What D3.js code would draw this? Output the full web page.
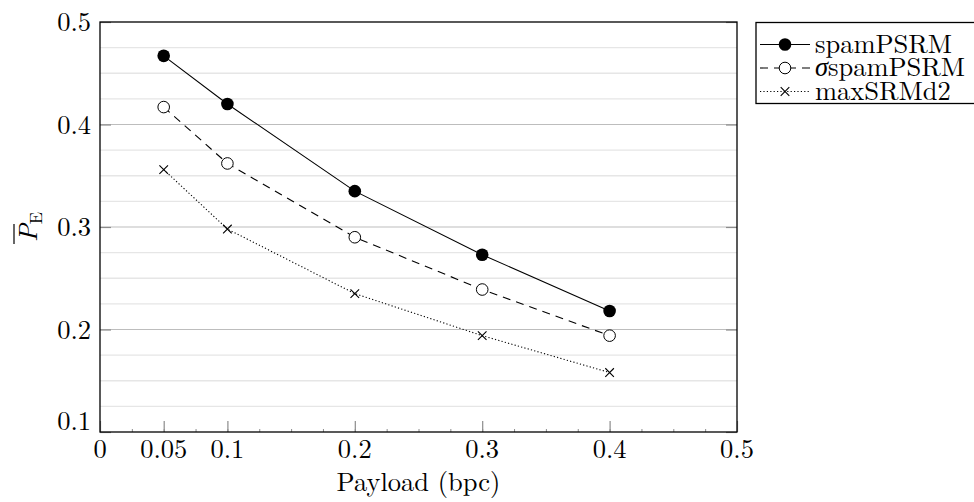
<!DOCTYPE html>
<html><head><meta charset="utf-8">
<script src="https://cdn.jsdelivr.net/npm/d3@7/dist/d3.min.js"></script>
<style>body{margin:0;background:#fff}svg{display:block}</style>
</head><body><svg id="c" width="974" height="502"></svg>
<script>
const payload = [0.05, 0.1, 0.2, 0.3, 0.4];
const spamPSRM = [0.467, 0.420, 0.335, 0.273, 0.218];
const sigmaSpamPSRM = [0.417, 0.362, 0.290, 0.239, 0.194];
const maxSRMd2 = [0.356, 0.298, 0.235, 0.194, 0.158];
const xTicks = [0, 0.05, 0.1, 0.2, 0.3, 0.4, 0.5];
const yTicks = [0.1, 0.2, 0.3, 0.4, 0.5];
const seriesNames = ["spamPSRM", "σspamPSRM", "maxSRMd2"];

const FONT = '"Latin Modern Roman","CMU Serif","Liberation Serif",serif';
const svg = d3.select("#c").attr("font-family", FONT);
const L = 100, R = 737, T = 22, B = 432;
const x = d3.scaleLinear().domain([0, 0.5]).range([L, R]);
const y = d3.scaleLinear().domain([0.1, 0.5]).range([B, T]);
const fs = 26.5;

// minor horizontal grid
const minorY = d3.range(0, 17).map(i => 0.1 + i * 0.025).filter(v => yTicks.every(t => Math.abs(t - v) > 1e-6));
svg.append("g").selectAll("line").data(minorY).join("line")
  .attr("x1", L).attr("x2", R).attr("y1", d => y(d)).attr("y2", d => y(d))
  .attr("stroke", "#e6e6e6").attr("stroke-width", 1.4);
// major horizontal grid
svg.append("g").selectAll("line").data(yTicks.slice(1, -1)).join("line")
  .attr("x1", L).attr("x2", R).attr("y1", d => y(d)).attr("y2", d => y(d))
  .attr("stroke", "#bdbdbd").attr("stroke-width", 1.2);

// y ticks left and right (inside)
const yAxL = d3.axisRight(y).tickValues(yTicks).tickSize(11).tickFormat("");
const yAxR = d3.axisLeft(y).tickValues(yTicks).tickSize(11).tickFormat("");
[[yAxL, L], [yAxR, R]].forEach(([ax, px]) => {
  const g = svg.append("g").attr("transform", `translate(${px},0)`).call(ax);
  g.select(".domain").remove();
  g.selectAll("line").attr("stroke", "#8c8c8c").attr("stroke-width", 1.2);
});
// x ticks bottom (inside)
const xMinor = d3.range(0, 21).map(i => i * 0.025);
const gxm = svg.append("g").attr("transform", `translate(0,${B})`)
  .call(d3.axisTop(x).tickValues(xMinor).tickSize(3).tickFormat(""));
gxm.select(".domain").remove();
gxm.selectAll("line").attr("stroke", "#8c8c8c").attr("stroke-width", 1);
const gx = svg.append("g").attr("transform", `translate(0,${B})`)
  .call(d3.axisTop(x).tickValues(xTicks).tickSize(11).tickFormat(""));
gx.select(".domain").remove();
gx.selectAll("line").attr("stroke", "#8c8c8c").attr("stroke-width", 1.2);

// frame
svg.append("rect").attr("x", L).attr("y", T).attr("width", R - L).attr("height", B - T)
  .attr("fill", "none").attr("stroke", "#000").attr("stroke-width", 1.3);

// tick labels
svg.append("g").selectAll("text").data(xTicks).join("text")
  .attr("font-family", FONT)
  .attr("x", d => x(d)).attr("y", 458).attr("text-anchor", "middle")
  .attr("font-size", fs).text(d => String(d));
svg.append("g").selectAll("text").data(yTicks).join("text")
  .attr("font-family", FONT)
  .attr("x", 91).attr("y", d => y(d) + 9 - (d === 0.1 ? 11 : 0)).attr("text-anchor", "end")
  .attr("font-size", fs).text(d => String(d));

// axis titles
svg.append("text").attr("font-family", FONT).attr("x", (L + R) / 2).attr("y", 491).attr("text-anchor", "middle")
  .attr("font-size", fs).text("Payload (bpc)");
const yl = svg.append("g").attr("transform", `translate(37,${(T + B) / 2}) rotate(-90)`);
const ylt = yl.append("text").attr("font-family", FONT).attr("text-anchor", "middle").attr("font-size", fs);
ylt.append("tspan").attr("font-style", "italic").text("P");
ylt.append("tspan").attr("font-size", 18).attr("dy", 5).text("E");
yl.append("line").attr("x1", -17).attr("x2", 3).attr("y1", -23).attr("y2", -23)
  .attr("stroke", "#000").attr("stroke-width", 1.2);

// series
const series = [
  {name: seriesNames[0], vals: spamPSRM, dash: null, marker: "filled"},
  {name: seriesNames[1], vals: sigmaSpamPSRM, dash: "8,6", marker: "open"},
  {name: seriesNames[2], vals: maxSRMd2, dash: "1.2,2.2", marker: "cross"}
];
const line = d3.line().x(d => x(d[0])).y(d => y(d[1]));
function drawMarker(g, kind, cx, cy) {
  if (kind === "filled") g.append("circle").attr("cx", cx).attr("cy", cy).attr("r", 6.3).attr("fill", "#000");
  else if (kind === "open") g.append("circle").attr("cx", cx).attr("cy", cy).attr("r", 5.8).attr("fill", "#fff").attr("stroke", "#000").attr("stroke-width", 1);
  else {
    const s = 4.3;
    g.append("path").attr("d", `M${cx - s},${cy - s}L${cx + s},${cy + s}M${cx - s},${cy + s}L${cx + s},${cy - s}`)
      .attr("stroke", "#000").attr("stroke-width", 1.1).attr("fill", "none");
  }
}
series.forEach(s => {
  const pts = payload.map((p, i) => [p, s.vals[i]]);
  const g = svg.append("g");
  g.append("path").attr("d", line(pts)).attr("fill", "none").attr("stroke", "#000")
    .attr("stroke-width", 1.1).attr("stroke-dasharray", s.dash);
  pts.forEach(p => drawMarker(g, s.marker, x(p[0]), y(p[1])));
});

// legend
const lg = svg.append("g");
lg.append("rect").attr("x", 756).attr("y", 22.5).attr("width", 240).attr("height", 81)
  .attr("fill", "#fff").attr("stroke", "#000").attr("stroke-width", 1.3);
const rowsY = [44.5, 68, 91.5];
series.forEach((s, i) => {
  const yy = rowsY[i];
  lg.append("line").attr("x1", 760).attr("x2", 810).attr("y1", yy).attr("y2", yy)
    .attr("stroke", "#000").attr("stroke-width", 1.1).attr("stroke-dasharray", s.dash);
  drawMarker(lg, s.marker, 785, yy);
  const t = lg.append("text").attr("font-family", FONT).attr("x", 815).attr("y", yy + 8).attr("font-size", fs);
  if (i === 1) {
    t.append("tspan").attr("font-family", '"Liberation Serif",serif').attr("font-style", "italic").text("σ");
    t.append("tspan").text("spamPSRM");
  } else t.text(s.name);
});
</script></body></html>
